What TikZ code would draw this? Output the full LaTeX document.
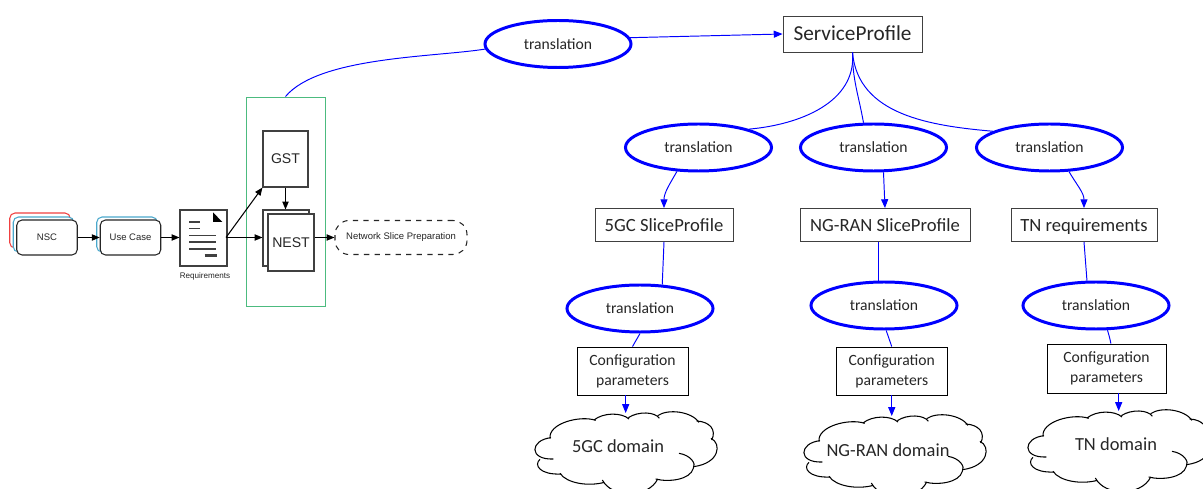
\documentclass[tikz,border=0pt]{standalone}
\usepackage{fontspec}
\setmainfont{Carlito}
\newfontfamily\arialfont{Liberation Sans}
\usetikzlibrary{arrows.meta,shapes.geometric}
\definecolor{slicegreen}{HTML}{4CBB7F}
\definecolor{nscred}{HTML}{F04040}
\definecolor{ucblue}{HTML}{4AA8CC}
\definecolor{inktext}{HTML}{262626}
\tikzset{
	transl/.style={draw=blue, line width=1.7pt, ellipse, minimum width=2.92cm, minimum height=.94cm, inner sep=0, text=inktext, font=\fontsize{8.9}{10}\selectfont},
	probox/.style={draw=black!75, line width=.5pt, minimum height=.66cm, inner sep=0, text height=8.6pt, text depth=1.4pt, text=inktext, font=\fontsize{10.6}{12}\selectfont},
	cfgbox/.style={draw=black, line width=.5pt, minimum width=2.22cm, minimum height=.96cm, inner sep=0, align=center, text=inktext, font=\fontsize{8.9}{11.4}\selectfont},
	domtext/.style={text=inktext, font=\fontsize{10.5}{12}\selectfont},
	link/.style={blue, line width=.55pt},
	linkto/.style={link, -{Triangle[length=5pt,width=4pt]}},
	flow/.style={black, line width=.6pt, -{Triangle[length=4.5pt,width=3.6pt]}},
	lbox/.style={draw=black!75, line width=.6pt, fill=white, inner sep=0, text=inktext},
	stackbox/.style={draw, line width=.6pt, fill=white, rounded corners=3pt, minimum width=1.21cm, minimum height=.7cm, inner sep=0},
	docline/.style={black!75, line width=.7pt},
	small/.style={font=\arialfont\fontsize{5.4}{6}\selectfont, text=inktext},
	big/.style={font=\arialfont\fontsize{8}{9}\selectfont},
	domcloud/.pic={
		\begin{scope}[x=.00667cm, y=-.00667cm, line width=.6pt]
			\coordinate (-top) at (302, 24);
			\draw (75, 100) .. controls (70, 55) and (165, 30) .. (212, 46);
			\draw (207, 45) .. controls (235, 22) and (290, 22) .. (312, 42);
			\draw (310, 38) .. controls (340, 18) and (390, 20) .. (403, 40);
			\draw (398, 32) .. controls (430, 10) and (500, 20) .. (522, 52);
			\draw (515, 48) .. controls (555, 50) and (575, 75) .. (560, 105);
			\draw (558, 100) .. controls (590, 115) and (585, 175) .. (505, 185);
			\draw (462, 145) .. controls (495, 150) and (515, 175) .. (505, 190) .. controls (495, 225) and (430, 232) .. (392, 222);
			\draw (398, 222) .. controls (370, 280) and (260, 280) .. (232, 225);
			\draw (238, 232) .. controls (190, 245) and (125, 235) .. (105, 205);
			\draw (108, 207) .. controls (45, 210) and (25, 180) .. (45, 163);
			\draw (78, 98) .. controls (15, 105) and (10, 165) .. (85, 162);
		\end{scope}
	}
}
\begin{document}
\begin{tikzpicture}
	\useasboundingbox (0, 0) rectangle (24.06, 9.78);
	% left part
	\node [lbox, draw=slicegreen, fill=none, line width=.55pt, minimum width=1.58cm, minimum height=4.18cm] (nsg) at (5.71, 5.75) {};
	\node [stackbox, draw=nscred] (nscc) at (.8, 5.17) {};
	\node [stackbox, draw=ucblue] (nscb) at (.87, 5.09) {};
	\node [stackbox, draw=black!85, small] (nsc) at (.94, 5.03) {NSC};
	\node [stackbox, draw=ucblue] (ucb) at (2.54, 5.09) {};
	\node [stackbox, draw=black!85, small] (uc) at (2.61, 5.03) {Use Case};
	\node [lbox, minimum width=.94cm, minimum height=1.12cm] (req) at (4.07, 5.02) {};
	\node [small, font=\arialfont\fontsize{4.6}{5}\selectfont] (reqlabel) at (4.1, 4.26) {Requirements};
	\node [lbox, big, minimum width=.9cm, minimum height=1.12cm] (gst) at (5.71, 6.6) {GST};
	\node [lbox, minimum width=.92cm, minimum height=1.12cm] (nestb) at (5.72, 5.02) {};
	\node [lbox, big, minimum width=.92cm, minimum height=1.14cm] (nest) at (5.82, 4.93) {NEST};
	\node [stackbox, draw=black!85, dashed, small, rounded corners=8pt, minimum width=2.64cm, minimum height=.68cm] (nsp) at (8.02, 5.03) {Network Slice Preparation};
	\fill [black] (4.26, 5.534) -- (4.446, 5.34) -- (4.26, 5.34) -- cycle;
	\foreach \y/\xb in {5.34/4.0, 5.21/4.0, 5.07/4.32, 4.94/4.32, 4.8/4.32} {
		\draw [docline] (3.78, \y) -- (\xb, \y);
	}
	\draw [line width=1.4pt, black!75] (4.09, 4.67) -- (4.34, 4.67);
	\draw [flow] (nsc) -- (uc);
	\draw [flow] (uc) -- (req.west |- uc);
	\coordinate (reqout) at (4.52, 5.03);
	\draw [flow] (reqout) -- (gst.south west);
	\draw [flow] (reqout) -- (nestb.west |- reqout);
	\draw [flow] (gst) -- (gst |- nestb.north);
	\draw [flow] (nest.east |- nsp) -- (nsp);
	% right part
	\node [probox, font=\fontsize{12.1}{14}\selectfont, text height=9.2pt, text depth=1.4pt, minimum width=2.78cm, minimum height=.72cm] (sp) at (17.05, 9.1) {ServiceProfile};
	\node [transl] (ttop) at (11.16, 8.9) {translation};
	\node [transl] (t5gc) at (13.97, 6.83) {translation};
	\node [transl] (tng) at (17.47, 6.83) {translation};
	\node [transl] (ttn) at (20.99, 6.83) {translation};
	\node [probox, minimum width=2.76cm] (p5gc) at (13.28, 5.28) {5GC SliceProfile};
	\node [probox, minimum width=3.4cm] (png) at (17.7, 5.28) {NG-RAN SliceProfile};
	\node [probox, minimum width=2.92cm] (ptn) at (21.68, 5.28) {TN requirements};
	\node [transl] (u5gc) at (12.8, 3.61) {translation};
	\node [transl] (ung) at (17.68, 3.67) {translation};
	\node [transl] (utn) at (21.92, 3.67) {translation};
	\node [cfgbox] (c5gc) at (12.65, 2.36) {Configuration\\parameters};
	\node [cfgbox] (cng) at (17.835, 2.36) {Configuration\\parameters};
	\node [cfgbox, minimum width=2.38cm, minimum height=.98cm] (ctn) at (22.13, 2.41) {Configuration\\parameters};
	\pic (d5gc) at (10.5, 1.68) {domcloud};
	\pic (dng) at (15.88, 1.62) {domcloud};
	\pic (dtn) at (20.36, 1.72) {domcloud};
	\node [domtext] (l5gc) at (12.36, .86) {5GC domain};
	\node [domtext] (lng) at (17.76, .78) {NG-RAN domain};
	\node [domtext] (ltn) at (22.32, .9) {TN domain};
	\draw [link] (nsg.north) to [out=50, in=189, looseness=.65] (ttop.184);
	\draw [linkto] (ttop.5) -- (sp.west);
	\draw [link] (sp.south) to [out=-85, in=5] (t5gc.20);
	\draw [link] (sp.south) to [out=-90, in=100] (tng.112);
	\draw [link] (sp.south) to [out=-85, in=175] (ttn.164);
	\draw [linkto] (t5gc.-132) to [out=-120, in=90] (p5gc.north);
	\draw [linkto] (tng.-68) -- (png.north);
	\draw [linkto] (ttn.-51) to [out=-60, in=90] (ptn.north);
	\draw [link] (p5gc.south) -- (u5gc.47);
	\draw [link] (ung.102 |- png.south) -- (ung.102);
	\draw [link] (ptn.south) -- (utn.110);
	\draw [link] (u5gc.south) -- (c5gc.north);
	\draw [link] (ung.-85) -- (cng.north);
	\draw [link] (utn.-65) to [out=-75, in=100] (ctn.80);
	\draw [linkto] (c5gc.south -| d5gc-top) -- (d5gc-top);
	\draw [linkto] (cng.south) -- (cng.south |- dng-top);
	\draw [linkto] (ctn.south -| dtn-top) -- (dtn-top);
\end{tikzpicture}
\end{document}
